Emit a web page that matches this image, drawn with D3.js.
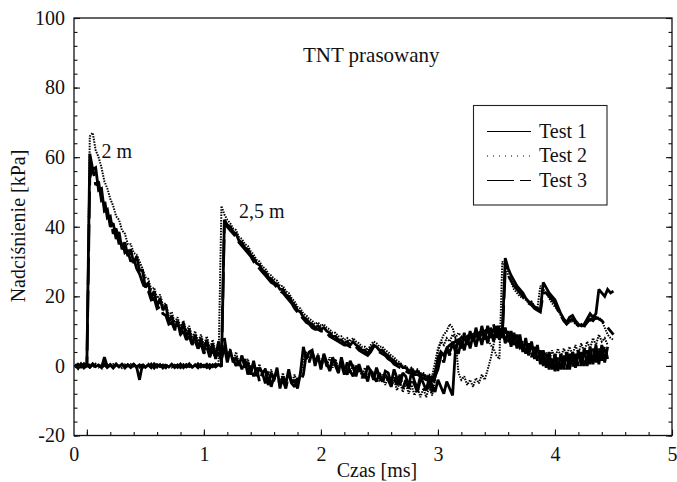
<!DOCTYPE html>
<html>
<head>
<meta charset="utf-8">
<script src="https://cdn.jsdelivr.net/npm/d3@7"></script>
<style>
  html, body { margin: 0; padding: 0; background: #fff; }
  svg text { font-family: "Liberation Serif", "DejaVu Serif", serif; fill: #111; }
</style>
</head>
<body>
<svg id="chart" width="677" height="482"></svg>
<script>
// Overpressure records sampled every 0.025 ms starting at -0.1 ms
const sampleStart = -0.1;
const sampleStep = 0.025;

// Gauge at 2 m
const test1_2m = [0.4,-0.7,0.6,-0.4,0.3,
  61,56.5,57,50.5, 51,44.5,45,40, 41,36.5,38.5,33.5, 35.5,31.5,33.5,29.5,
  31.5,27.5,27.5,22.5, 24,19.5,21.5,17, 19.5,16,17.5,12.5, 14.5,10.5,13,9,
  12.5,8,10.5,6, 9,5,8,4, 7.5,3,6.5,2, 7,2,5.5,1,
  4.5,1,2.5,0, 3,-0.5,1,-2.5, 1.5,-3,-0.5,-2, -1,-5.5,-2,-4, -0.5,-6.5,-3,-5,
  -1,-5,-4,-6.5, -2,5.5,2,4, 4.5,0,3,-1, 3.5,1,-1.5,2.5, 0,-2,2.5,-1,
  -2.5,1.5,-0.5,-3, 0.5,-2,-3.5,0, -1.5,-4,-0.5,-3, -4.5,-1.5,-2,-5, -1,-3.5,-5.5,-2,
  -3,-6,-1.5,-4.5, -6.5,-3,-5,-7, -3.5,-5.5,-7.5,-4, -6,-8,-4.5,-6.5, -8.5,5,
  3.5,7.5,4.5,8.5, 5,9,5.5,9.5,
  6,10,6.5,11, 7,11.5,7.5,11, 6.5,10,5.5,9.5, 5,9,4,8, 3,7,2,6, 0.5,4.5,-0.5,4,
  -1,3.5,-1.5,3.5, -1,4,-1,4, -0.5,4.5,0,5, 0,5.5,0.5,6, 0.5,6,1,5.5];
const test2_2m = [0.3,-0.4,0.5,-0.6,0.2,
  66,67,62,60, 57,53,51,48, 46,43,42,39, 38,35,35,32.5, 32,30,28,25.5,
  25,22,22.5,19.5, 20.5,17.5,18,14.5, 15.5,12.5,14,11, 13,10,11.5,8, 10,7,9,6,
  8.5,5,7.5,4, 7,3.5,6,2.5, 5,1.5,4,0.5, 3,0,2,-1, 1,-2,0.5,-3, -0.5,-4,-1,-4.5,
  -1.5,-5,-2,-5.5, -2,-5,-2.5,-5.5, -3,2,4,1.5, 4,1,3.5,0.5, 3,0,2.5,-0.5,
  2,-1,1.5,-1.5, 1,-2,0.5,-2.5, 0,-3,-0.5,-3.5, -1,-4,-1.5,-4.5, -2.5,-5.5,-3,-6,
  -4,-7,-4.5,-7.5, -5,-8,-5.5,-8.5, -6,-9,-6.5,-9, -6,-8.5,-4,4, 7,9,10,12,
  11,8,-2,-4, -3,-5.5,-4,-6, -3.5,-5,-2.5,-4, -1,2,6,10, 11,9,8,7, 8,6,7,5,
  6,4,5,3, 4.5,2.5,4,2, 4,1.5,4.5,2, 5,2.5,5,3, 5.5,3,6,3.5, 6.5,4,7,5,
  8,6,9,7, 8,6];
const test3_2m = [-0.5,0.5,-0.3,0.6,-0.2,
  54,57,52,53, 47.5,48,42.5,43, 38,39.5,35,36, 32.5,33,30,31, 28,26.5,24,22,
  21.5,19,19.5,16.5, 17,15,14.5,12, 12.5,10.5,10.5,9, 10,7.5,8.5,6, 7,5,6.5,3.5,
  5.5,2.5,5,2, 4,1.5,8,2.5,
  3.5,2,0,1.5, -1,2,-2.5,0, -3,-0.5,-4.5,-2, -5,-1.5,-6,-3, -2,-5.5,-4,-6.5,
  -2.5,-5,-6,-3.5, -4.5,-2.5,3.5,1, 4,1.5,2.5,-0.5, 3,0,-1.5,2, 1,-2,0.5,-2.5,
  1,-1.5,-3,0, -1,-3.5,-2,-4.5, -0.5,-3,-4.5,-2, -5,-2.5,-4,-6, -3,-5.5,-2.5,-6.5,
  -4,-6.5,-3.5,-5.5, -7.5,-4,-6,-7, -4.5,-7.5,-3,-1, 3,1,5,3,
  7,4,8,5, 9.5,6,10,6.5, 11,7,11.5,7.5, 11.5,8,12,8, 12,8,11,7, 10,6,9,5,
  7.5,3.5,6.5,2.5, 5.5,1.5,4.5,0, 3.5,-1,3,-1.5, 2.5,-1,3,-1, 3.5,-0.5,3.5,0,
  4,0,4.5,0.5, 5,1,5.5,1.5, 6,2];

// Gauge at 2.5 m
const test1_25m = [0.5,-0.3,0.4,-0.6,0.2,
  -0.4,0.6,-0.2,0.3, -0.5,2.5,-0.3,0.4, -0.6,0.3,-0.2,0.5, -0.4,0.2,-0.5,0.4,
  -0.3,-4,0.5,-0.4, 0.3,-0.5,0.6,-0.2, 0.4,-0.6,0.2,-0.3, 0.5,-0.4,0.3,-0.5,
  0.2,-0.3,0.6,-0.4, 0.3,-0.5,0.4,-0.2, 0.5,-0.6,0.3,-0.3, 0.4,-0.2,42,40.5,
  40,38.5,38,36, 35.5,34,33.5,32, 31,29.5,29,27.5, 27,25.5,25,24, 23.5,22,22,20.5,
  20,18.5,17.5,16, 15.5,14,13.5,12.5, 12,11,11.5,10.5, 11,10,9.5,8.5, 8.5,7.5,7.5,6.5,
  7,6,7,6, 5.5,4.5,4.5,3.5, 5,6,5.5,4.5, 4.5,3.5,3,2, 1.5,0.5,0.5,-0.5,
  -0.5,-1.5,-1,-2, -1.5,-2.5,-2.5,-3.5, -3,-4,-2,2, 4,3,5,4, 6,5,7,6,
  8,7,8.5,7.5, 9,8,9.5,8.5, 10,9,10.5,9.5, 10,9,31,28, 26,24.5,23,22,
  21,19.5,18.5,18, 17,16.5,16,24, 22.5,21,20,19, 17,15,13.5,12.5, 14,14.5,13,12,
  11.5,12,13.5,15, 14,15,22,21, 20,22,21,21.5];
const test2_25m = [-0.4,0.5,-0.2,0.3,-0.5,
  0.4,-0.3,0.6,-0.4, 0.2,-0.5,0.4,-0.3, 0.5,-0.2,0.3,-0.6, 0.4,-0.3,0.5,-0.2,
  0.3,-0.5,0.4,-0.4, 0.6,-0.2,0.3,-0.5, 0.2,-0.4,0.5,-0.3, 0.4,-0.6,0.2,-0.2,
  0.5,-0.4,0.3,-0.5, 0.4,-0.3,0.6,-0.2, 0.3,-0.5,0.4,-0.3, 0.5,46,43.5,42,
  41,39.5,39,37, 36.5,35,34.5,33, 32,30.5,30,28.5, 28,26.5,26,25, 24.5,23,23,21.5,
  21,19.5,18.5,17, 16.5,15,14.5,13.5, 13,12,12.5,11.5, 12,11,10.5,9.5, 9.5,8.5,8.5,7.5,
  8,7,8,7, 6.5,5.5,5.5,4.5, 6,7,6.5,5.5, 5.5,4.5,4,3, 2.5,1.5,1,0,
  0,-1,-0.5,-1.5, -1,-2,-2,-3, -2.5,-3,1,5, 7,6,8,7, 9,8,9.5,8.5,
  9,8,9.5,9, 10,9,10,9, 8,6,5,3, 2,30,29,26, 24,22,21,20,
  19.5,19,18,18.5, 17,16.5,23,22, 21,19.5,18,17, 16,14.5,13,12, 12.5,13,12,11.5,
  12,11,12.5,13, 14,13.5,14,13, 11,9,8,7.5];
const test3_25m = [0.2,-0.5,0.3,-0.2,0.6,
  -0.3,0.4,-0.5,0.2, -0.2,0.5,-0.4,0.3, -0.5,0.6,-0.3,0.2, -0.6,0.4,-0.2,0.5,
  -0.4,0.3,-0.5,0.2, -0.3,0.5,-0.6,0.4, -0.2,0.3,-0.5,0.6, -0.3,0.2,-0.4,0.5,
  -0.5,0.4,-0.2,0.3, -0.4,0.6,-0.3,0.2, -0.5,0.4,-0.2,0.5, -0.3,0.2,41,40,
  39,38,37,35.5, 34.5,33.5,32.5,31.5, 30,29,28,27, 26,25,24,23.5, 22.5,21.5,21,20,
  19,18,16.5,15.5, 14.5,13.5,12.5,12, 11,10.5,10.5,10, 10,9.5,8.5,8, 7.5,7,6.5,6,
  6,5.5,6,5.5, 4.5,4,3.5,3, 4,5.5,4.5,4, 3.5,3,2,1.5, 0.5,0,-0.5,-1,
  -1.5,-2,-2,-2.5, -2.5,-3,-3.5,-4, -4,-4.5,-3,0, 3,4.5,5,6, 6.5,7,7.5,8,
  8,8.5,9,9, 9.5,9.5,10,10, 10.5,10,10,9.5, 9.5,9,27,26, 24.5,23,22,21,
  20,19,18,17.5, 16.5,16,15.5,21, 21,20,19,18, 16,14.5,13,12, 13,13.5,12.5,11.5,
  11,11.5,12.5,13.5, 13,14,13.5,13, 12,11,10,9];

const testNames = ["Test 1", "Test 2", "Test 3"];
const xTicks = [0, 1, 2, 3, 4, 5];
const yTicks = [-20, 0, 20, 40, 60, 80, 100];

// Line style per test: solid, dotted, dashed
const styles = {
  "Test 1": { dash: null, width: 2.8, legendDash: null },
  "Test 2": { dash: "1.5,1.2", width: 2.0, legendDash: "1,5" },
  "Test 3": { dash: "27,6", width: 2.8, legendDash: "27,6" }
};

const series = [
  { test: "Test 1", values: test1_2m },
  { test: "Test 2", values: test2_2m },
  { test: "Test 3", values: test3_2m },
  { test: "Test 1", values: test1_25m },
  { test: "Test 2", values: test2_25m },
  { test: "Test 3", values: test3_25m }
];

const svg = d3.select("#chart");
const plotLeft = 74, plotRight = 672, plotTop = 18, plotBottom = 435.5;

const x = d3.scaleLinear().domain([-0.11, 5]).range([plotLeft, plotRight]);
const y = d3.scaleLinear().domain([-20, 100]).range([plotBottom, plotTop]);

// Traces
svg.append("clipPath").attr("id", "plotClip")
  .append("rect").attr("x", plotLeft).attr("y", plotTop)
  .attr("width", plotRight - plotLeft).attr("height", plotBottom - plotTop);

const line = d3.line()
  .x((d, i) => x(sampleStart + i * sampleStep))
  .y(d => y(d));

const traces = svg.append("g").attr("clip-path", "url(#plotClip)");
series.forEach(s => {
  traces.append("path")
    .attr("d", line(s.values))
    .attr("fill", "none")
    .attr("stroke", "#000")
    .attr("stroke-width", styles[s.test].width)
    .attr("stroke-dasharray", styles[s.test].dash)
    .attr("stroke-linejoin", "miter")
    .attr("stroke-miterlimit", 2);
});

// Axes: ticks point into the plot
const tickLabel = d => String(d);
function styleAxis(g) {
  g.select(".domain").remove();
  g.selectAll(".tick line").attr("stroke", "#111").attr("stroke-width", 1.1);
  g.selectAll("text").attr("font-size", 20)
    .attr("font-family", '"Liberation Serif", "DejaVu Serif", serif').attr("fill", "#111");
}

const xMinor = d3.range(0, 5.0001, 0.2);
svg.append("g").attr("transform", `translate(0,${plotBottom})`)
  .call(d3.axisBottom(x).tickValues(xMinor).tickSize(-3.5).tickFormat(""))
  .call(styleAxis);
const xAxis = svg.append("g").attr("transform", `translate(0,${plotBottom})`)
  .call(d3.axisBottom(x).tickValues(xTicks).tickSize(-6).tickPadding(11).tickFormat(tickLabel))
  .call(styleAxis);
// the zero label sits under the start of the axis line
xAxis.selectAll(".tick text").filter(d => d === 0).attr("dx", -13);

const yMinor = d3.range(-20, 100.001, 4);
svg.append("g").attr("transform", `translate(${plotLeft},0)`)
  .call(d3.axisLeft(y).tickValues(yMinor).tickSize(-3.5).tickFormat(""))
  .call(styleAxis);
svg.append("g").attr("transform", `translate(${plotLeft},0)`)
  .call(d3.axisLeft(y).tickValues(yTicks).tickSize(-6).tickPadding(9).tickFormat(tickLabel))
  .call(styleAxis);

svg.append("g").attr("transform", `translate(${plotRight},0)`)
  .call(d3.axisRight(y).tickValues(yMinor).tickSize(-3.5).tickFormat(""))
  .call(styleAxis);
svg.append("g").attr("transform", `translate(${plotRight},0)`)
  .call(d3.axisRight(y).tickValues(yTicks).tickSize(-6).tickFormat(""))
  .call(styleAxis);

// Frame
svg.append("rect")
  .attr("x", plotLeft).attr("y", plotTop)
  .attr("width", plotRight - plotLeft).attr("height", plotBottom - plotTop)
  .attr("fill", "none").attr("stroke", "#111").attr("stroke-width", 1.3);

// Axis titles
svg.append("text")
  .attr("x", 377).attr("y", 477)
  .attr("text-anchor", "middle").attr("font-size", 20)
  .text("Czas [ms]");
svg.append("text")
  .attr("transform", "translate(25,226) rotate(-90)")
  .attr("text-anchor", "middle").attr("font-size", 20)
  .text("Nadciśnienie [kPa]");

// Annotations
svg.append("text").attr("x", x(1.846)).attr("y", y(87.4))
  .attr("font-size", 21).text("TNT prasowany");
svg.append("text").attr("x", x(0.126)).attr("y", y(59.7))
  .attr("font-size", 20).text("2 m");
svg.append("text").attr("x", x(1.30)).attr("y", y(42.6))
  .attr("font-size", 20).text("2,5 m");

// Legend
const legend = svg.append("g");
legend.append("rect")
  .attr("x", 473.5).attr("y", 105.5).attr("width", 133.5).attr("height", 99.5)
  .attr("fill", "#fff").attr("stroke", "#222").attr("stroke-width", 1.1);
testNames.forEach((name, i) => {
  const cy = 131.5 + i * 24.5;
  legend.append("line")
    .attr("x1", 487).attr("x2", 531).attr("y1", cy).attr("y2", cy)
    .attr("stroke", "#000").attr("stroke-width", 1.2)
    .attr("stroke-dasharray", styles[name].legendDash);
  legend.append("text")
    .attr("x", 539).attr("y", cy + 6).attr("font-size", 20)
    .text(name);
});
</script>
</body>
</html>
